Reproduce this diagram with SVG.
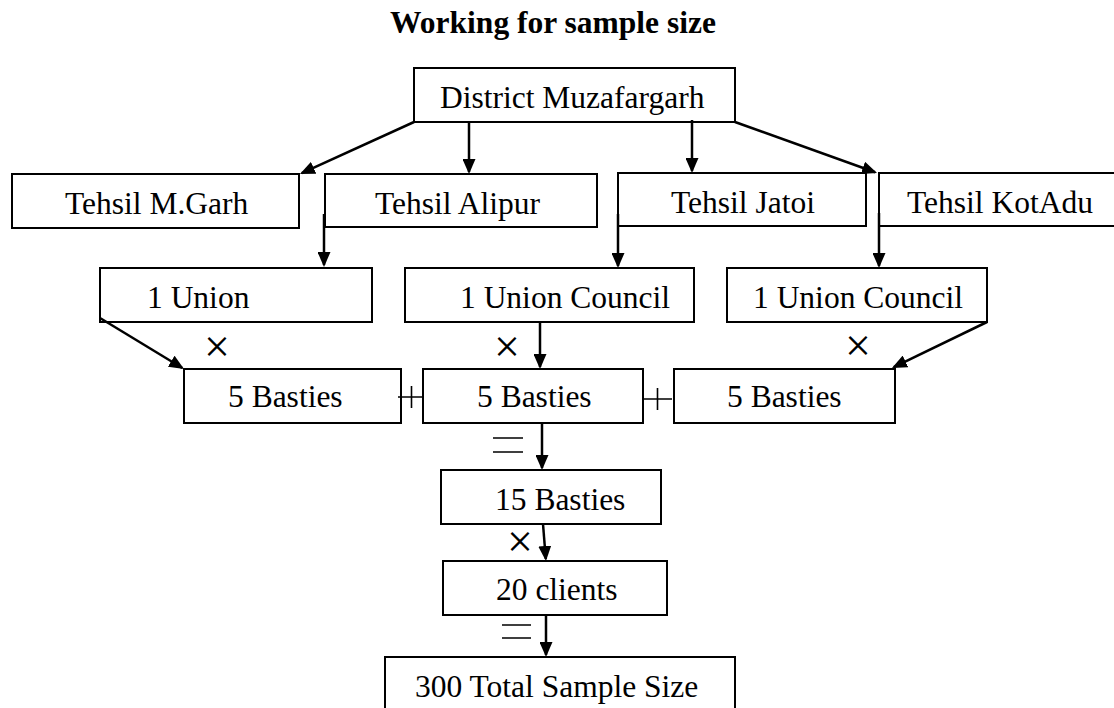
<svg xmlns="http://www.w3.org/2000/svg" width="1114" height="708" viewBox="0 0 1114 708">
<style>
.box{fill:#fff;stroke:#000;stroke-width:2}
.lbl{font-family:"Liberation Serif","Times New Roman",serif;font-size:31.5px;fill:#000}
.title{font-family:"Liberation Serif","Times New Roman",serif;font-size:31.5px;font-weight:bold;fill:#000}
.op{font-family:"Liberation Serif","Times New Roman",serif;font-size:46px;fill:#000;text-anchor:middle}
.cn{fill:none;stroke:#000;stroke-width:2.5;marker-end:url(#ah)}
.sym{fill:none;stroke:#000;stroke-width:1.6}
</style>
<defs>
<marker id="ah" markerWidth="15" markerHeight="13" refX="13" refY="6.5" orient="auto" markerUnits="userSpaceOnUse">
<path d="M0,0 L15,6.5 L0,13 z" fill="#000"/>
</marker>
</defs>
<rect width="1114" height="708" fill="#fff"/>
<text class="title" x="553" y="33" text-anchor="middle">Working for sample size</text>

<g id="district"><rect class="box" x="414" y="68" width="321" height="54"/><text class="lbl" x="440" y="108">District Muzafargarh</text></g>
<g id="tehsil-mgarh"><rect class="box" x="12" y="174" width="287" height="54"/><text class="lbl" x="65" y="214">Tehsil M.Garh</text></g>
<g id="tehsil-alipur"><rect class="box" x="325" y="174" width="272" height="53"/><text class="lbl" x="375" y="214">Tehsil Alipur</text></g>
<g id="tehsil-jatoi"><rect class="box" x="618" y="173" width="248" height="53"/><text class="lbl" x="671" y="213">Tehsil Jatoi</text></g>
<g id="tehsil-kotadu"><rect class="box" x="879" y="173" width="245" height="53"/><text class="lbl" x="907" y="213">Tehsil KotAdu</text></g>
<g id="union-1"><rect class="box" x="100" y="268" width="272" height="54"/><text class="lbl" x="147" y="308">1 Union</text></g>
<g id="union-2"><rect class="box" x="405" y="268" width="289" height="54"/><text class="lbl" x="460" y="308">1 Union Council</text></g>
<g id="union-3"><rect class="box" x="727" y="268" width="260" height="54"/><text class="lbl" x="753" y="308">1 Union Council</text></g>
<g id="basties-1"><rect class="box" x="184" y="369" width="217" height="54"/><text class="lbl" x="228" y="407">5 Basties</text></g>
<g id="basties-2"><rect class="box" x="423" y="369" width="220" height="54"/><text class="lbl" x="477" y="407">5 Basties</text></g>
<g id="basties-3"><rect class="box" x="674" y="369" width="221" height="54"/><text class="lbl" x="727" y="407">5 Basties</text></g>
<g id="basties-15"><rect class="box" x="441" y="470" width="220" height="54"/><text class="lbl" x="495" y="510">15 Basties</text></g>
<g id="clients-20"><rect class="box" x="443" y="561" width="224" height="54"/><text class="lbl" x="496" y="600">20 clients</text></g>
<g id="total-300"><rect class="box" x="385" y="657" width="350" height="60"/><text class="lbl" x="415" y="697">300 Total Sample Size</text></g>

<g id="connectors">
<path class="cn" d="M414,122 L301.8,173.2"/>
<path class="cn" d="M469,122 L469,172"/>
<path class="cn" d="M692,120 L692,171"/>
<path class="cn" d="M735,122 L875.1,172.3"/>
<path class="cn" d="M324,214 L324,265"/>
<path class="cn" d="M618,214 L618,266"/>
<path class="cn" d="M879,213 L879,266"/>
<path class="cn" d="M100,318 L182.3,368"/>
<path class="cn" d="M540,322 L540,367"/>
<path class="cn" d="M987,322 L893.8,367.1"/>
<path class="cn" d="M542,423 L542,468"/>
<path class="cn" d="M543,524 L545.8,559"/>
<path class="cn" d="M546,615 L546,655"/>
</g>

<g id="operators">
<text class="op" x="217" y="362">×</text>
<text class="op" x="507" y="362">×</text>
<text class="op" x="858" y="361">×</text>
<text class="op" x="520" y="557">×</text>
<path class="sym" d="M398,397 L423,397 M411.5,386 L411.5,408"/>
<path class="sym" d="M643,399 L672,399 M657.5,388 L657.5,410"/>
<path class="sym" d="M493,438 L523,438 M493,452 L523,452"/>
<path class="sym" d="M502,625 L531,625 M502,638 L531,638"/>
</g>
</svg>
